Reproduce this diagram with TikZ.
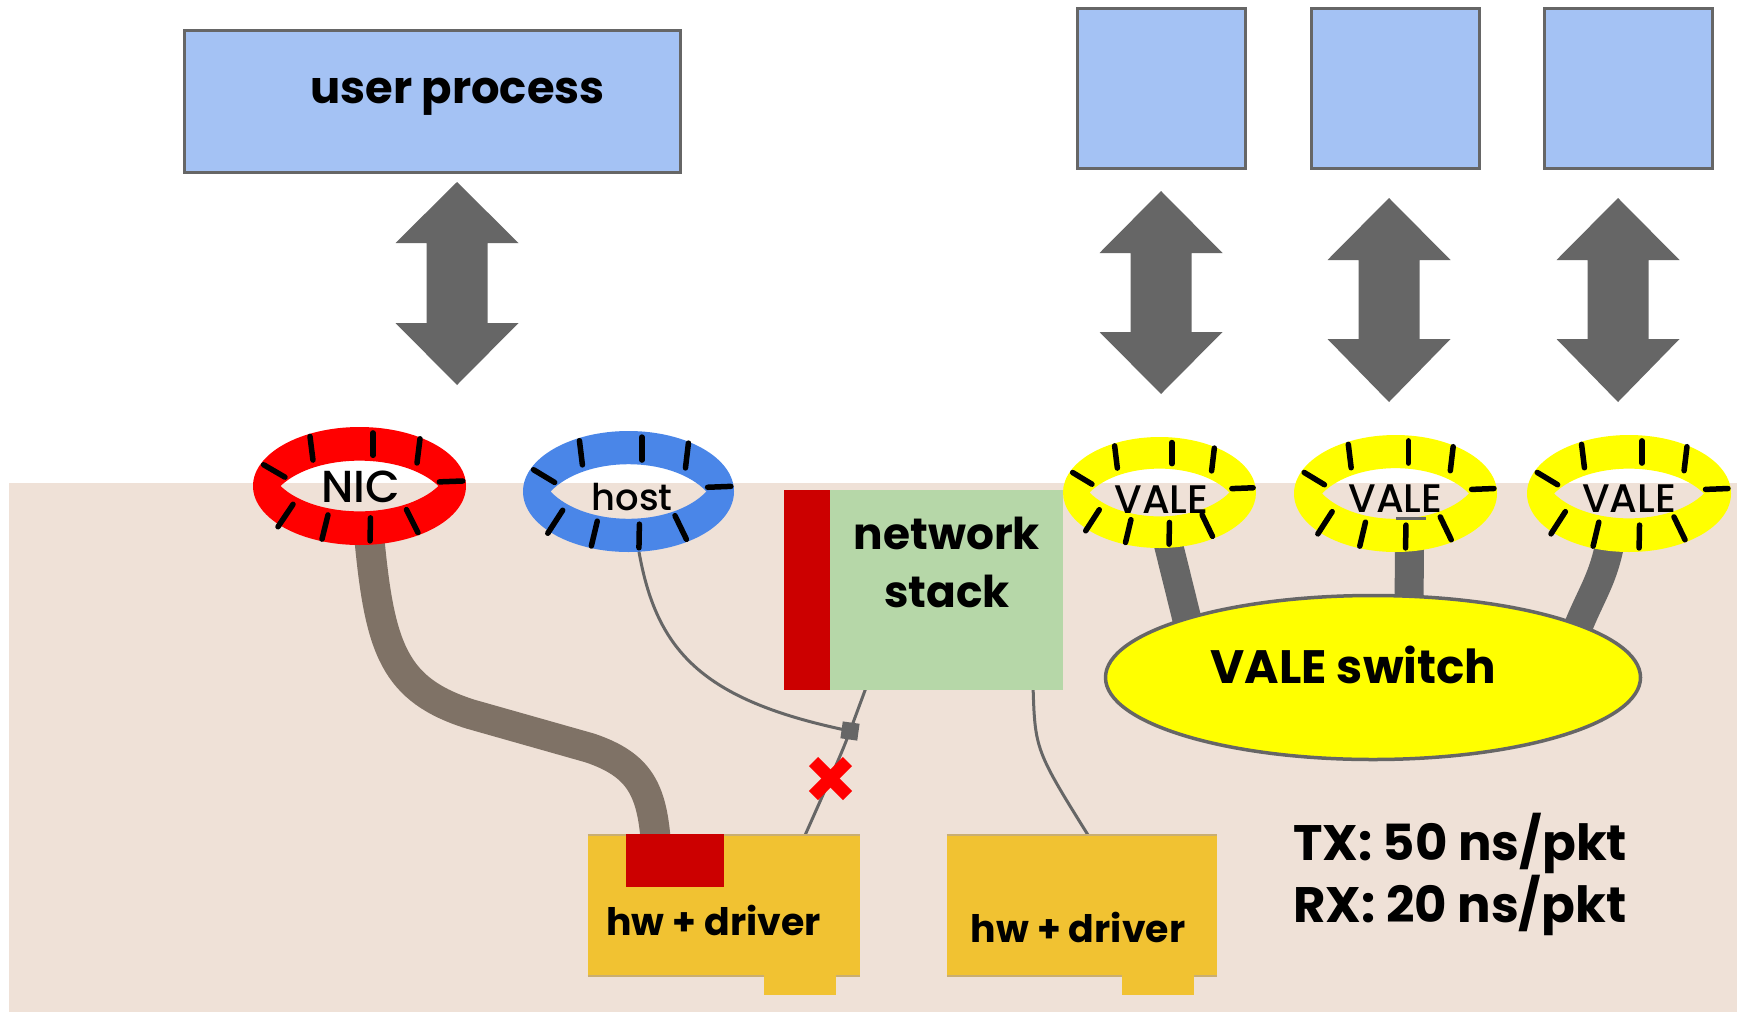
\documentclass[tikz,border=0pt]{standalone}
\usepackage{fontspec}
\setmainfont{Poppins}
\IfFontExistsTF{Poppins Medium}
  {\newfontfamily\ringfont{Poppins Medium}}
  {\newfontfamily\ringfont{Poppins}[FakeBold=1.2]}
\usetikzlibrary{shapes.geometric,calc}

\definecolor{bgbeige}{HTML}{EFE1D7}
\definecolor{procblue}{HTML}{A4C2F4}
\definecolor{framegray}{HTML}{666666}
\definecolor{nicred}{HTML}{FF0000}
\definecolor{hostblue}{HTML}{4A86E8}
\definecolor{valeyellow}{HTML}{FFFF00}
\definecolor{stackgreen}{HTML}{B6D7A8}
\definecolor{darkred}{HTML}{CC0000}
\definecolor{hwgold}{HTML}{F1C232}
\definecolor{hwedge}{HTML}{C9AE72}
\definecolor{cablebrown}{HTML}{7F7266}

\pgfdeclarelayer{bg}
\pgfdeclarelayer{links}
\pgfsetlayers{bg,links,main}

\tikzset{
  procbox/.style={draw=framegray, line width=3bp, fill=procblue, inner sep=0pt},
  hwbox/.style={fill=hwgold, inner sep=0pt},
  plainbox/.style={inner sep=0pt, outer sep=0pt},
  ringnode/.style={ellipse, inner sep=0pt, outer sep=0pt},
  ringtick/.style={draw=black, line width=5.5bp, line cap=round},
  ringtext/.style={font=\ringfont\fontsize{40}{48}\selectfont, inner sep=0pt},
  titletext/.style={font=\bfseries\fontsize{45}{54}\selectfont, inner sep=0pt},
  switchtext/.style={font=\bfseries\fontsize{47}{56}\selectfont, inner sep=0pt},
  stacktext/.style={font=\bfseries\fontsize{44}{54}\selectfont, inner sep=0pt},
  hwtext/.style={font=\bfseries\fontsize{38}{46}\selectfont, inner sep=0pt},
  ratetext/.style={font=\bfseries\fontsize{50}{60}\selectfont, inner sep=0pt},
  thinlink/.style={draw=framegray, line width=3bp},
  cable/.style={draw=cablebrown, line width=30bp},
  stem/.style={draw=framegray, line width=29bp},
  xstroke/.style={draw=nicred, line width=13bp},
  edgeline/.style={draw=hwedge, line width=1.5bp},
}

% fat vertical double arrow: centre x, top tip, upper head base, lower head base, bottom tip
\newcommand\fatarrow[5]{%
  \fill[framegray] (#1,#2) -- ({#1+61.5},#3) -- ({#1+30.5},#3) -- ({#1+30.5},#4)
    -- ({#1+61.5},#4) -- (#1,#5) -- ({#1-61.5},#4) -- ({#1-30.5},#4)
    -- ({#1-30.5},#3) -- ({#1-61.5},#3) -- cycle;}

% ring buffer: name, cx, cy, outer rx, outer ry, hole rx, hole ry, colour
% slot marks are given as fractions of the outer radii (inner end / outer end)
\newcommand\ringdraw[8]{%
  \node[ringnode, minimum width={2*#4*1bp}, minimum height={2*#5*1bp}] (#1) at (#2,#3) {};
  \fill[#8, even odd rule] (#2,#3) ellipse [x radius=#4, y radius=#5]
    ({#2-#6},#3) .. controls ({#2-0.55*#6},{#3-1.3*#7}) and ({#2+0.55*#6},{#3-1.3*#7}) .. ({#2+#6},#3)
    .. controls ({#2+0.55*#6},{#3+1.3*#7}) and ({#2-0.55*#6},{#3+1.3*#7}) .. cycle;
  \foreach \ua/\va/\ub/\vb in {
      -0.437/-0.44/-0.465/-0.84, 0.127/-0.52/0.127/-0.90, 0.54/-0.39/0.568/-0.80,
      -0.70/-0.15/-0.90/-0.36, 0.75/-0.07/0.97/-0.085,
      -0.624/0.31/-0.765/0.69, -0.296/0.49/-0.352/0.90, 0.103/0.54/0.099/0.93,
      0.441/0.40/0.549/0.79}
    \draw[ringtick] ({#2+\ua*#4},{#3+\va*#5}) -- ({#2+\ub*#4},{#3+\vb*#5});}

\begin{document}
\begin{tikzpicture}[x=1bp,y=-1bp]
\useasboundingbox (0,0) rectangle (1737,1014);
\begin{pgfonlayer}{bg}
  \fill[white] (0,0) rectangle (1737,1014);
  \fill[bgbeige] (9,483) rectangle (1737,1012);
\end{pgfonlayer}

% user space
\node[procbox, minimum width=496bp, minimum height=142bp] (user) at (432.5,101.5) {};
\node[titletext, anchor=base] (userlbl) at (457.5,103) {user process};
\node[procbox, minimum width=168bp, minimum height=160bp] (proc1) at (1161.5,88.5) {};
\node[procbox, minimum width=168bp, minimum height=160bp] (proc2) at (1395,88.5) {};
\node[procbox, minimum width=168bp, minimum height=160bp] (proc3) at (1628,88.5) {};

\fatarrow{457}{182}{243}{323}{385}
\fatarrow{1161}{191}{253}{332}{394}
\fatarrow{1389}{198}{260}{339}{402}
\fatarrow{1618}{198}{260}{339}{402}

% rings
\ringdraw{nic}{359.5}{486}{106.5}{59}{79}{26}{nicred}
\ringdraw{host}{628.5}{491.5}{105.5}{60.5}{78}{28}{hostblue}
\ringdraw{vale1}{1159.5}{492.5}{96.5}{55.5}{70}{24.5}{valeyellow}
\ringdraw{vale2}{1395.5}{493.5}{101.5}{58.5}{73.5}{26}{valeyellow}
\ringdraw{vale3}{1629}{493.5}{102}{58.5}{75}{25.5}{valeyellow}
\node[ringtext, font=\ringfont\fontsize{45}{54}\selectfont, anchor=base] (niclbl) at (360.5,502) {NIC};
\node[ringtext, font=\ringfont\fontsize{37}{44}\selectfont, anchor=base] (hostlbl) at (632,510) {host};
\node[ringtext, anchor=base] (vale1lbl) at (1161.5,513) {VALE};
\node[ringtext, anchor=base] (vale2lbl) at (1395.5,512) {VALE};
\node[ringtext, anchor=base] (vale3lbl) at (1629,512) {VALE};
\draw[framegray, line width=3bp] (1396,518) -- (1426,518);

% network stack
\node[plainbox, fill=stackgreen, minimum width=233bp, minimum height=200bp] (stack) at (946.5,590) {};
\node[plainbox, fill=darkred, minimum width=46bp, minimum height=200bp] (stackbar) at (807,590) {};
\node[stacktext, anchor=base] (stacklbla) at (947,549) {network};
\node[stacktext, anchor=base] (stacklblb) at (947,607) {stack};

% VALE switch
\node[ellipse, draw=framegray, line width=3.5bp, fill=valeyellow, inner sep=0pt,
      minimum width=535bp, minimum height=164bp] (switch) at (1373,677.5) {};
\node[switchtext, anchor=base] (switchlbl) at (1353.5,683) {VALE switch};

% hardware
\node[hwbox, minimum width=272bp, minimum height=141bp] (hw1) at (724,905.5) {};
\draw[edgeline] (hw1.north west) -- (hw1.north east);
\draw[edgeline] (hw1.south west) -- (hw1.south east);
\node[hwbox, minimum width=72bp, minimum height=20bp] (hw1tab) at (800,985) {};
\node[plainbox, fill=darkred, minimum width=98bp, minimum height=53bp] (hw1port) at (675,860.5) {};
\node[hwtext, anchor=base] (hw1lbl) at (713.5,935) {hw + driver};

\node[hwbox, minimum width=270bp, minimum height=141bp] (hw2) at (1082,905.5) {};
\draw[edgeline] (hw2.north west) -- (hw2.north east);
\draw[edgeline] (hw2.south west) -- (hw2.south east);
\node[hwbox, minimum width=72bp, minimum height=20bp] (hw2tab) at (1158,985) {};
\node[hwtext, anchor=base] (hw2lbl) at (1078,942) {hw + driver};

% junction and broken path
\node[plainbox, fill=framegray, minimum size=17bp, rotate=-8] (junction) at (850,731) {};
\coordinate (xmark) at (830.5,778.5);
\draw[xstroke] ($(xmark)+(-17,-17)$) -- ($(xmark)+(17,17)$);
\draw[xstroke] ($(xmark)+(17,-17)$) -- ($(xmark)+(-17,17)$);

% rates
\node[ratetext, anchor=base west] (txlbl) at (1293,860) {TX: 50 ns/pkt};
\node[ratetext, anchor=base west] (rxlbl) at (1293,922) {RX: 20 ns/pkt};

% connectors
\begin{pgfonlayer}{links}
  \draw[cable] ($(nic.south)+(10,-5)$) .. controls (380,650) and (395,690) .. (470,714)
    -- (590,748) .. controls (640,765) and (652,790) .. ($(hw1port.north)+(-19,10)$);
  \draw[thinlink] ($(host.south)+(9.5,-6)$) .. controls (655,650) and (700,700) .. (junction.center);
  \draw[thinlink] ($(stack.south west)+(37,-5)$) -- (junction.center)
    .. controls (842,752) .. ($(hw1.north)+(79,5)$);
  \draw[thinlink] ($(stack.south east)+(-30,-5)$) .. controls (1035,750) .. ($(hw2.north)+(9,5)$);
  \draw[stem] ($(vale1.south)+(6,-15)$) .. controls (1176,575) .. ($(switch.north)+(-183,38)$);
  \draw[stem] ($(vale2.south)+(14,-15)$) -- ($(switch.north)+(36,20)$);
  \draw[stem] ($(vale3.south)+(-18,-15)$) .. controls (1604,580) and (1590,595) .. ($(switch.north)+(202,41)$);
\end{pgfonlayer}
\end{tikzpicture}
\end{document}
